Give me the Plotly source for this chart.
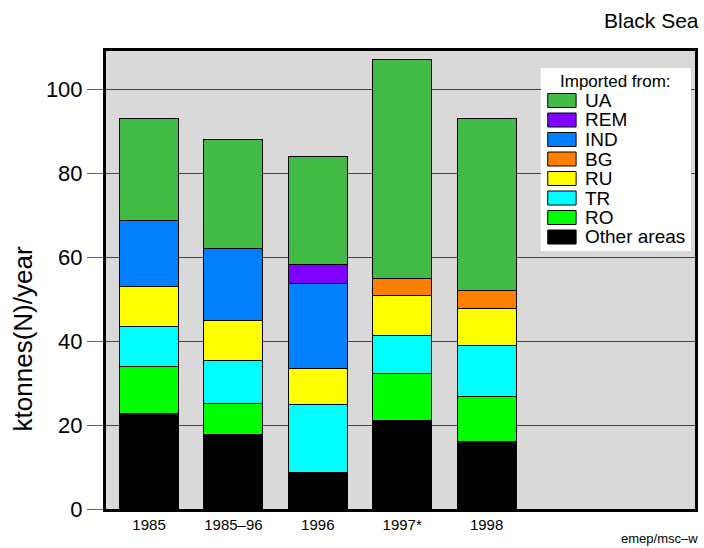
import plotly.graph_objects as go

# ---- data ----
categories = ["1985", "1985\u201396", "1996", "1997*", "1998"]
series_names = ["Other areas", "RO", "TR", "RU", "BG", "IND", "REM", "UA"]
other_areas = [22.7, 17.7, 8.8, 21.1, 16.0]
ro = [11.2, 7.4, None, 11.2, 10.9]
tr = [9.6, 10.4, 16.0, 9.0, 12.0]
ru = [9.5, 9.5, 8.6, 9.6, 8.8]
bg = [None, None, None, 4.1, 4.3]
ind = [15.7, 17.2, 20.3, None, None]
rem = [None, None, 4.7, None, None]
ua = [24.3, 25.9, 25.6, 52.2, 41.0]
y_ticks = [0, 20, 40, 60, 80, 100]

series_values = [other_areas, ro, tr, ru, bg, ind, rem, ua]
colors = ["#000000", "#00ff00", "#00ffff", "#ffff00", "#ff8000", "#0080ff", "#8000ff", "#42bb45"]

FONT = "Liberation Sans, Arial, sans-serif"
W, H = 704, 548
ML, MR, MT, MB = 106, 6, 51, 39
PW, PH = W - ML - MR, H - MT - MB


def px2x(px):
    return (px - ML) / PW


def px2y(py):
    return (H - MB - py) / PH


xpos = list(range(1, len(categories) + 1))

fig = go.Figure()
for name, vals, col in zip(series_names, series_values, colors):
    fig.add_trace(go.Bar(
        x=xpos, y=vals, name=name, width=0.7,
        marker=dict(color=col, line=dict(color="#000000", width=1)),
        showlegend=False,
    ))

fig.update_layout(
    width=W, height=H,
    margin=dict(l=ML, r=MR, t=MT, b=MB, pad=0),
    barmode="stack",
    paper_bgcolor="white",
    plot_bgcolor="#d9d9d9",
    font=dict(family=FONT, color="black"),
    xaxis=dict(
        range=[0.49, 7.47], tickmode="array", tickvals=xpos, ticktext=categories,
        showgrid=False, zeroline=False, ticks="", tickfont=dict(size=15),
        showline=True, linewidth=3, linecolor="black", mirror=True,
    ),
    yaxis=dict(
        range=[0, 109.2], tickmode="array", tickvals=y_ticks,
        showgrid=True, gridcolor="#444444", gridwidth=1, zeroline=False,
        ticks="outside", ticklen=16, tickcolor="#666666", tickwidth=1,
        tickfont=dict(size=22),
        showline=True, linewidth=3, linecolor="black", mirror=True,
    ),
)

annotations = [
    dict(text="Black Sea", x=px2x(704), y=px2y(21), xref="paper", yref="paper",
         xanchor="right", yanchor="middle", showarrow=False, font=dict(size=21)),
    dict(text="emep/msc\u2013w", x=px2x(703), y=px2y(538), xref="paper", yref="paper",
         xanchor="right", yanchor="middle", showarrow=False, font=dict(size=13)),
    dict(text="ktonnes(N)/year", x=px2x(23), y=px2y(339), xref="paper", yref="paper",
         xanchor="center", yanchor="middle", textangle=-90, showarrow=False,
         font=dict(size=26)),
    dict(text="Imported from:", x=px2x(618), y=px2y(81), xref="paper", yref="paper",
         xanchor="center", yanchor="middle", showarrow=False, font=dict(size=17)),
]
shapes = [
    dict(type="rect", xref="paper", yref="paper", x0=px2x(543), x1=px2x(694),
         y0=px2y(251), y1=px2y(68), fillcolor="white", line=dict(width=0), layer="above"),
]
legend_order = list(reversed(range(len(series_names))))
for i, idx in enumerate(legend_order):
    cy = 100.5 + 19.5 * i
    shapes.append(dict(type="rect", xref="paper", yref="paper",
                       x0=px2x(550), x1=px2x(578.5), y0=px2y(cy + 7), y1=px2y(cy - 7),
                       fillcolor=colors[idx], line=dict(color="black", width=1), layer="above"))
    annotations.append(dict(text=series_names[idx], x=px2x(585), y=px2y(cy), xref="paper",
                            yref="paper", xanchor="left", yanchor="middle", showarrow=False,
                            font=dict(size=19)))

fig.update_layout(annotations=annotations, shapes=shapes)
fig.write_html("out.html", config={"displayModeBar": False})

# remove the browser's default page margin so the figure sits at the top-left corner
with open("out.html", "r", encoding="utf-8") as f:
    html = f.read()
html = html.replace("<body>", '<body style="margin:0;padding:0;overflow:hidden">', 1)
with open("out.html", "w", encoding="utf-8") as f:
    f.write(html)
